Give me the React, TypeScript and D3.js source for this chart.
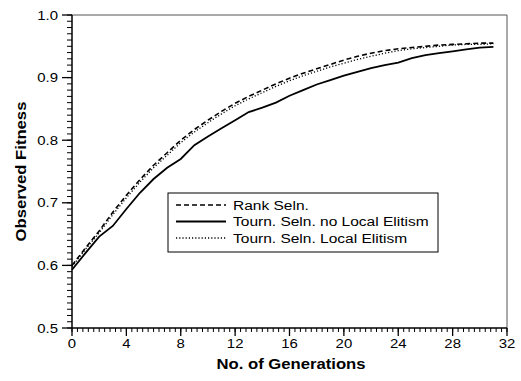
import * as d3 from "d3";

const generations = d3.range(0, 32);

const rankSeln = [
  0.6, 0.628, 0.655, 0.685, 0.712, 0.737, 0.76, 0.78, 0.8, 0.817, 0.832, 0.846,
  0.859, 0.87, 0.88, 0.89, 0.899, 0.907, 0.914, 0.921, 0.928, 0.934, 0.939,
  0.943, 0.946, 0.948, 0.95, 0.952, 0.953, 0.954, 0.955, 0.955,
];
const tournNoElitism = [
  0.593, 0.62, 0.646, 0.663, 0.69, 0.716, 0.738, 0.756, 0.77, 0.792, 0.806,
  0.819, 0.832, 0.845, 0.852, 0.86, 0.871, 0.88, 0.889, 0.896, 0.903, 0.909,
  0.915, 0.92, 0.924, 0.931, 0.936, 0.939, 0.942, 0.945, 0.948, 0.949,
];
const tournElitism = [
  0.598, 0.626, 0.652, 0.681, 0.708, 0.733, 0.756, 0.776, 0.796, 0.813, 0.828,
  0.842, 0.855, 0.866, 0.876, 0.886, 0.895, 0.903, 0.91, 0.917, 0.923, 0.929,
  0.934, 0.939, 0.943, 0.946, 0.948, 0.95, 0.952, 0.953, 0.953, 0.954,
];

const seriesNames = [
  "Rank Seln.",
  "Tourn. Seln. no Local Elitism",
  "Tourn. Seln. Local Elitism",
];
const xTicks = [0, 4, 8, 12, 16, 20, 24, 28, 32];
const yTicks = [0.5, 0.6, 0.7, 0.8, 0.9, 1.0];

// text in the original is a little wider than Arial, stretch it
const SX = 1.15;

export default function App() {
  const width = 521;
  const height = 381;
  const margin = { top: 15, right: 14, bottom: 53, left: 72 };

  const x = d3.scaleLinear().domain([0, 32]).range([margin.left, width - margin.right]);
  const y = d3.scaleLinear().domain([0.5, 1.0]).range([height - margin.bottom, margin.top]);

  const series = [
    { values: rankSeln, dash: "5,3", width: 1.6 },
    { values: tournNoElitism, dash: "none", width: 1.8 },
    { values: tournElitism, dash: "1.2,2", width: 1.3 },
  ];

  const line = d3
    .line<number>()
    .x((_, i) => x(generations[i]))
    .y((d) => y(d));

  const xMinor = d3.range(0, 32.001, 0.4);
  const yMinor = d3.range(0.5, 1.0001, 0.01);

  const x0 = margin.left;
  const y0 = height - margin.bottom;
  const font = "Arial, 'Liberation Sans', sans-serif";

  // legend box
  const lg = { x: 168, y: 193, w: 270, h: 59 };

  return (
    <svg
      width={width}
      height={height}
      style={{ position: "absolute", left: 0, top: 0, background: "#fff" }}
      fontFamily={font}
    >
      {/* frame top + right */}
      <path
        d={`M${x0},${margin.top}H${width - margin.right}V${y0}`}
        fill="none"
        stroke="#555"
        strokeWidth={1}
      />

      {/* y axis */}
      {yMinor.map((v, i) => (
        <line key={"ym" + i} x1={x0 - 5} x2={x0} y1={y(v)} y2={y(v)} stroke="#000" strokeWidth={1} />
      ))}
      {yTicks.map((v) => (
        <g key={"y" + v}>
          <line x1={x0 - 10} x2={x0} y1={y(v)} y2={y(v)} stroke="#000" strokeWidth={1.3} />
          <text
            transform={`translate(${x0 - 14},${y(v)}) scale(${SX},1)`}
            dy="0.36em"
            textAnchor="end"
            fontSize={13}
          >
            {v.toFixed(1)}
          </text>
        </g>
      ))}
      <line x1={x0} x2={x0} y1={margin.top} y2={y0} stroke="#000" strokeWidth={1.5} />

      {/* x axis */}
      {xMinor.map((v, i) => (
        <line key={"xm" + i} x1={x(v)} x2={x(v)} y1={y0} y2={y0 + 4} stroke="#000" strokeWidth={1} />
      ))}
      {xTicks.map((v) => (
        <g key={"x" + v}>
          <line x1={x(v)} x2={x(v)} y1={y0} y2={y0 + 8} stroke="#000" strokeWidth={1.3} />
          <text
            transform={`translate(${x(v)},${y0 + 20}) scale(${SX},1)`}
            textAnchor="middle"
            fontSize={13}
          >
            {v}
          </text>
        </g>
      ))}
      <line x1={x0} x2={width - margin.right} y1={y0} y2={y0} stroke="#000" strokeWidth={1.5} />

      {/* titles */}
      <text
        transform={`translate(291,${y0 + 41}) scale(${SX},1)`}
        textAnchor="middle"
        fontSize={14.5}
        fontWeight="bold"
      >
        No. of Generations
      </text>
      <text
        transform={`translate(26,${(margin.top + y0) / 2}) rotate(-90) scale(${SX},1)`}
        textAnchor="middle"
        fontSize={14.5}
        fontWeight="bold"
      >
        Observed Fitness
      </text>

      {/* lines */}
      {series.map((s, i) => (
        <path
          key={"s" + i}
          d={line(s.values) ?? ""}
          fill="none"
          stroke="#000"
          strokeWidth={s.width}
          strokeDasharray={s.dash}
        />
      ))}

      {/* legend */}
      <rect x={lg.x} y={lg.y} width={lg.w} height={lg.h} fill="#fff" stroke="#000" strokeWidth={1} />
      {series.map((s, i) => {
        const ly = lg.y + 12 + i * 16.5;
        return (
          <g key={"l" + i}>
            <line
              x1={lg.x + 8}
              x2={lg.x + 58}
              y1={ly}
              y2={ly}
              stroke="#000"
              strokeWidth={s.width}
              strokeDasharray={s.dash}
            />
            <text
              transform={`translate(${lg.x + 65},${ly}) scale(${SX},1)`}
              dy="0.36em"
              fontSize={13.5}
            >
              {seriesNames[i]}
            </text>
          </g>
        );
      })}
    </svg>
  );
}
